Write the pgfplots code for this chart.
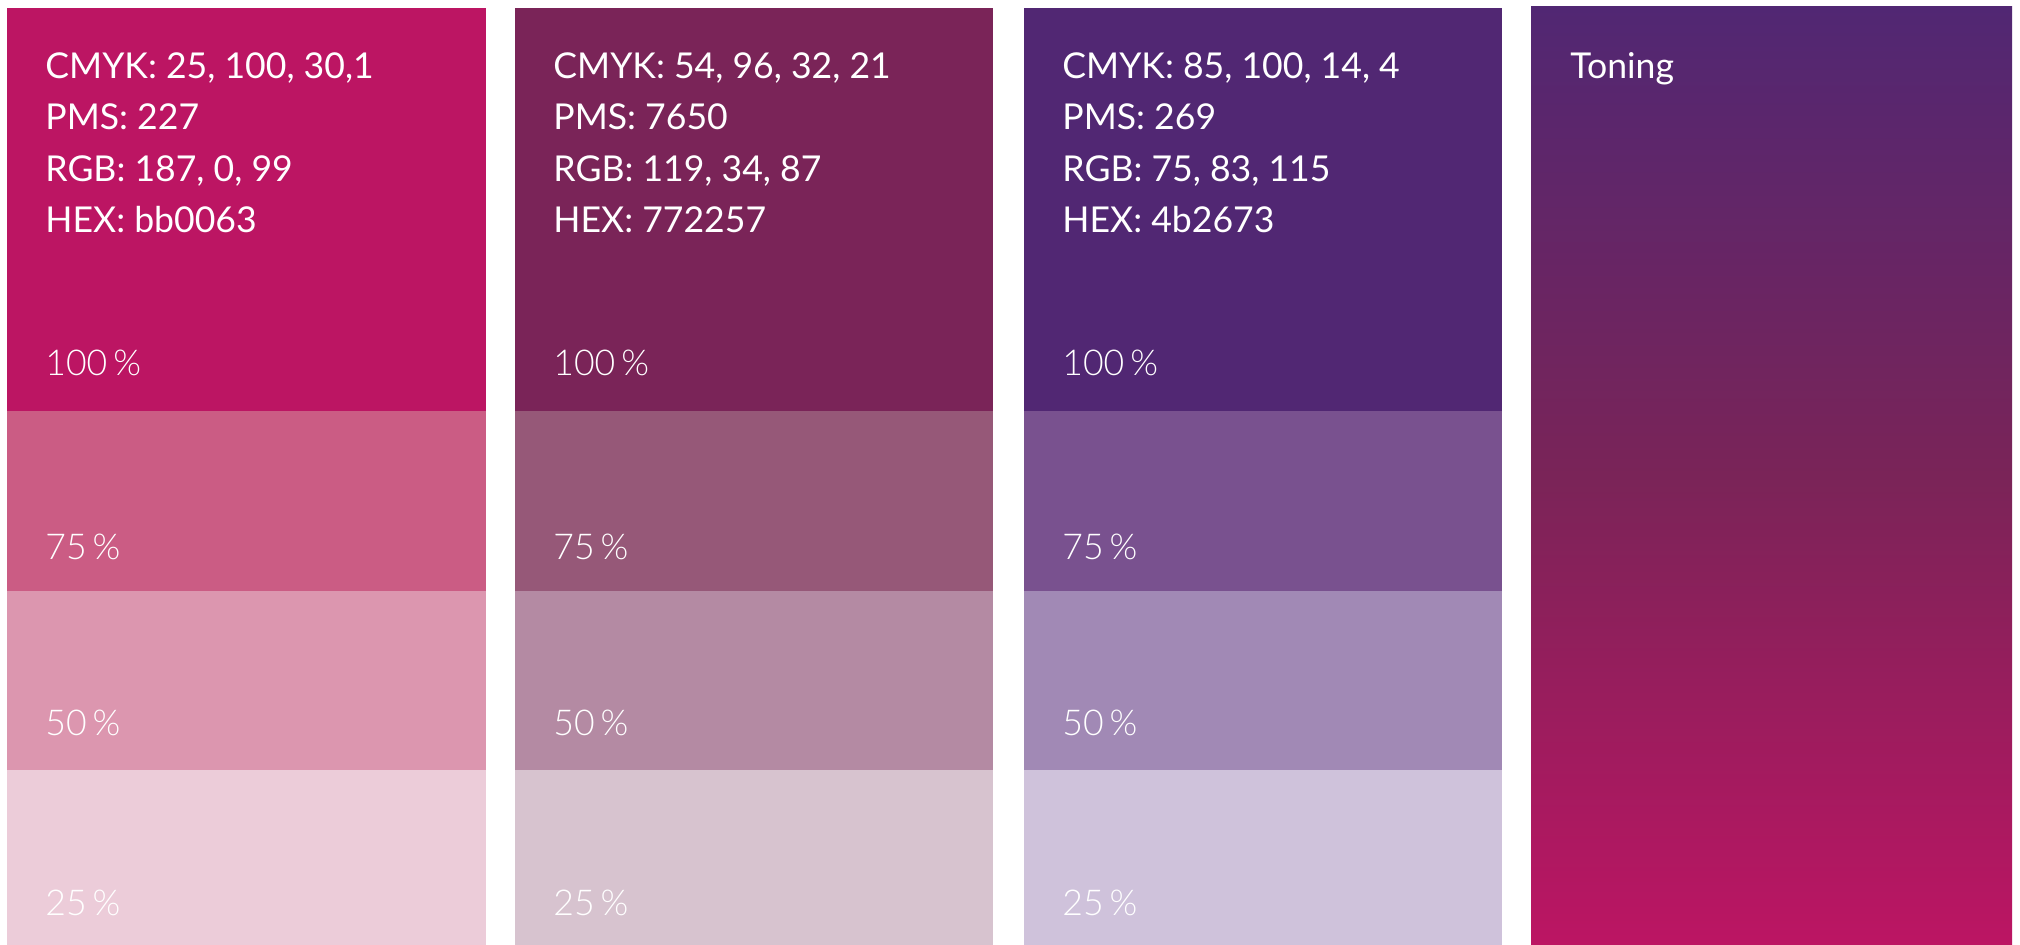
\documentclass[border=0pt]{standalone}
\usepackage{pgfplots}
\pgfplotsset{compat=1.18}
\usepackage{fontspec}
\setmainfont{Lato}
\newfontfamily\lightfont{Lato Light}
\definecolor{aA}{HTML}{BC1563}
\definecolor{aB}{HTML}{CB5C84}
\definecolor{aC}{HTML}{DC96AF}
\definecolor{aD}{HTML}{ECCCD9}
\definecolor{bA}{HTML}{7A2458}
\definecolor{bB}{HTML}{965878}
\definecolor{bC}{HTML}{B48AA3}
\definecolor{bD}{HTML}{D7C3CF}
\definecolor{cA}{HTML}{512773}
\definecolor{cB}{HTML}{79518F}
\definecolor{cC}{HTML}{A189B5}
\definecolor{cD}{HTML}{CFC2DB}
\begin{document}
\begin{tikzpicture}
\begin{axis}[scale only axis, width=1010bp, height=472.5bp,
  xmin=0, xmax=2020, ymin=0, ymax=945, y dir=reverse,
  hide axis, clip=false, no markers]
% background
\addplot[draw=none, fill=white] coordinates {(0,0) (2020,0) (2020,945) (0,945)};
% column 1
\addplot[draw=none, fill=aA] coordinates {(7,8) (486,8) (486,411) (7,411)};
\addplot[draw=none, fill=aB] coordinates {(7,411) (486,411) (486,591) (7,591)};
\addplot[draw=none, fill=aC] coordinates {(7,591) (486,591) (486,770) (7,770)};
\addplot[draw=none, fill=aD] coordinates {(7,770) (486,770) (486,945) (7,945)};
% column 2
\addplot[draw=none, fill=bA] coordinates {(515,8) (993,8) (993,411) (515,411)};
\addplot[draw=none, fill=bB] coordinates {(515,411) (993,411) (993,591) (515,591)};
\addplot[draw=none, fill=bC] coordinates {(515,591) (993,591) (993,770) (515,770)};
\addplot[draw=none, fill=bD] coordinates {(515,770) (993,770) (993,945) (515,945)};
% column 3
\addplot[draw=none, fill=cA] coordinates {(1024,8) (1502,8) (1502,411) (1024,411)};
\addplot[draw=none, fill=cB] coordinates {(1024,411) (1502,411) (1502,591) (1024,591)};
\addplot[draw=none, fill=cC] coordinates {(1024,591) (1502,591) (1502,770) (1024,770)};
\addplot[draw=none, fill=cD] coordinates {(1024,770) (1502,770) (1502,945) (1024,945)};
% column 4 (gradient)
\addplot[draw=none, top color=cA, bottom color=aA, middle color=bA] coordinates {(1531,7) (2012,7) (2012,945) (1531,945)};
% texts
\begin{scope}[every node/.style={anchor=base west, text=white, inner sep=0pt, font=\fontsize{17.8bp}{20bp}\selectfont}]
\node at (axis cs:45,79) {CMYK: 25, 100, 30,1};
\node at (axis cs:45,130) {PMS: 227};
\node at (axis cs:45,182) {RGB: 187, 0, 99};
\node at (axis cs:45,232) {HEX: bb0063};
\node at (axis cs:553,79) {CMYK: 54, 96, 32, 21};
\node at (axis cs:553,130) {PMS: 7650};
\node at (axis cs:553,182) {RGB: 119, 34, 87};
\node at (axis cs:553,232) {HEX: 772257};
\node at (axis cs:1062,79) {CMYK: 85, 100, 14, 4};
\node at (axis cs:1062,130) {PMS: 269};
\node at (axis cs:1062,182) {RGB: 75, 83, 115};
\node at (axis cs:1062,232) {HEX: 4b2673};
\node at (axis cs:1570,79) {Toning};
\end{scope}
\begin{scope}[every node/.style={anchor=base west, text=white, inner sep=0pt, font=\lightfont\fontsize{17.8bp}{20bp}\selectfont}]
\node at (axis cs:45,375) {100\,\%};
\node at (axis cs:45,559) {75\,\%};
\node at (axis cs:45,735) {50\,\%};
\node at (axis cs:45,915) {25\,\%};
\node at (axis cs:553,375) {100\,\%};
\node at (axis cs:553,559) {75\,\%};
\node at (axis cs:553,735) {50\,\%};
\node at (axis cs:553,915) {25\,\%};
\node at (axis cs:1062,375) {100\,\%};
\node at (axis cs:1062,559) {75\,\%};
\node at (axis cs:1062,735) {50\,\%};
\node at (axis cs:1062,915) {25\,\%};
\end{scope}
\end{axis}
\end{tikzpicture}
\end{document}
